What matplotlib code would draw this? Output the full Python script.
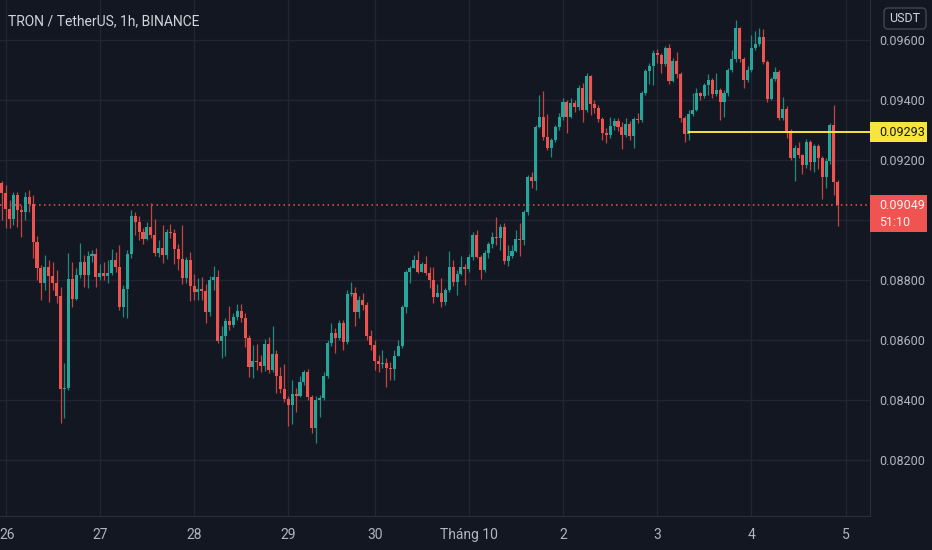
import matplotlib
matplotlib.use("Agg")
import matplotlib.pyplot as plt
import matplotlib.transforms as mtransforms
from matplotlib.patches import Rectangle, FancyBboxPatch
import numpy as np

# TRX/USDT 1h candles, Sep 25 23:00 -> Oct 4 22:00 (Binance)
first_open = 0.09123
closes = [
    0.09090, 0.09036, 0.09003, 0.09083, 0.09033, 0.09026, 0.09076, 0.09053, 0.08926, 0.08840, 0.08790, 0.08843,
    0.08813, 0.08790, 0.08746, 0.08436, 0.08440, 0.08803, 0.08736, 0.08816, 0.08860, 0.08816, 0.08880, 0.08886,
    0.08810, 0.08823, 0.08813, 0.08823, 0.08866, 0.08843, 0.08710, 0.08770, 0.08886, 0.09013, 0.08993, 0.08960,
    0.08936, 0.08976, 0.08950, 0.08890, 0.08906, 0.08883, 0.08960, 0.08956, 0.08903, 0.08870, 0.08806, 0.08866,
    0.08780, 0.08760, 0.08770, 0.08763, 0.08693, 0.08800, 0.08810, 0.08596, 0.08613, 0.08663, 0.08650, 0.08676,
    0.08696, 0.08673, 0.08606, 0.08510, 0.08530, 0.08526, 0.08513, 0.08586, 0.08500, 0.08553, 0.08480, 0.08436,
    0.08403, 0.08383, 0.08420, 0.08413, 0.08460, 0.08493, 0.08410, 0.08306, 0.08400, 0.08406, 0.08480, 0.08590,
    0.08623, 0.08606, 0.08656, 0.08593, 0.08753, 0.08756, 0.08693, 0.08733, 0.08716, 0.08613, 0.08583, 0.08530,
    0.08520, 0.08523, 0.08506, 0.08503, 0.08546, 0.08580, 0.08710, 0.08826, 0.08840, 0.08866, 0.08826, 0.08853,
    0.08823, 0.08800, 0.08743, 0.08756, 0.08726, 0.08766, 0.08843, 0.08793, 0.08820, 0.08843, 0.08836, 0.08876,
    0.08950, 0.08876, 0.08833, 0.08890, 0.08920, 0.08943, 0.08940, 0.08976, 0.08863, 0.08880, 0.08896, 0.08936,
    0.08933, 0.09026, 0.09143, 0.09130, 0.09310, 0.09343, 0.09276, 0.09240, 0.09266, 0.09310, 0.09343, 0.09393,
    0.09343, 0.09390, 0.09376, 0.09440, 0.09366, 0.09480, 0.09386, 0.09373, 0.09336, 0.09290, 0.09283, 0.09313,
    0.09330, 0.09310, 0.09283, 0.09320, 0.09280, 0.09336, 0.09333, 0.09423, 0.09496, 0.09513, 0.09556, 0.09550,
    0.09520, 0.09573, 0.09463, 0.09530, 0.09486, 0.09340, 0.09286, 0.09353, 0.09366, 0.09423, 0.09413, 0.09450,
    0.09466, 0.09420, 0.09433, 0.09393, 0.09423, 0.09500, 0.09536, 0.09640, 0.09536, 0.09466, 0.09500, 0.09573,
    0.09586, 0.09610, 0.09526, 0.09403, 0.09470, 0.09493, 0.09340, 0.09370, 0.09296, 0.09206, 0.09240, 0.09216,
    0.09183, 0.09260, 0.09193, 0.09246, 0.09206, 0.09143, 0.09196, 0.09316, 0.09126, 0.09049,
]
highs = [
    0.09130, 0.09116, 0.09066, 0.09093, 0.09093, 0.09050, 0.09093, 0.09100, 0.09083, 0.08946, 0.08850, 0.08883,
    0.08866, 0.08860, 0.08833, 0.08776, 0.08523, 0.08890, 0.08860, 0.08840, 0.08923, 0.08883, 0.08896, 0.08900,
    0.08906, 0.08853, 0.08860, 0.08866, 0.08903, 0.08893, 0.08916, 0.08783, 0.08900, 0.09033, 0.09026, 0.09013,
    0.08973, 0.08993, 0.09056, 0.09003, 0.08933, 0.08983, 0.08970, 0.08986, 0.08970, 0.08920, 0.08983, 0.08876,
    0.08893, 0.08820, 0.08806, 0.08810, 0.08786, 0.08813, 0.08846, 0.08833, 0.08646, 0.08673, 0.08713, 0.08690,
    0.08720, 0.08720, 0.08690, 0.08616, 0.08583, 0.08586, 0.08550, 0.08603, 0.08610, 0.08646, 0.08566, 0.08510,
    0.08520, 0.08413, 0.08466, 0.08440, 0.08480, 0.08500, 0.08503, 0.08416, 0.08413, 0.08416, 0.08493, 0.08600,
    0.08656, 0.08640, 0.08666, 0.08666, 0.08766, 0.08793, 0.08776, 0.08746, 0.08756, 0.08726, 0.08633, 0.08600,
    0.08550, 0.08566, 0.08540, 0.08526, 0.08566, 0.08600, 0.08716, 0.08833, 0.08846, 0.08883, 0.08896, 0.08860,
    0.08880, 0.08843, 0.08843, 0.08786, 0.08806, 0.08773, 0.08896, 0.08866, 0.08833, 0.08880, 0.08853, 0.08886,
    0.08960, 0.08966, 0.08883, 0.08900, 0.08926, 0.08960, 0.09010, 0.08986, 0.08990, 0.08916, 0.08916, 0.08966,
    0.08990, 0.09033, 0.09150, 0.09160, 0.09316, 0.09416, 0.09430, 0.09353, 0.09273, 0.09316, 0.09356, 0.09406,
    0.09400, 0.09406, 0.09400, 0.09450, 0.09456, 0.09490, 0.09483, 0.09400, 0.09383, 0.09343, 0.09306, 0.09343,
    0.09340, 0.09340, 0.09326, 0.09340, 0.09330, 0.09343, 0.09356, 0.09430, 0.09503, 0.09523, 0.09566, 0.09570,
    0.09556, 0.09580, 0.09586, 0.09540, 0.09560, 0.09493, 0.09346, 0.09366, 0.09423, 0.09440, 0.09426, 0.09456,
    0.09486, 0.09473, 0.09490, 0.09440, 0.09433, 0.09506, 0.09566, 0.09666, 0.09643, 0.09543, 0.09513, 0.09616,
    0.09630, 0.09640, 0.09636, 0.09533, 0.09476, 0.09510, 0.09500, 0.09410, 0.09380, 0.09303, 0.09250, 0.09260,
    0.09220, 0.09270, 0.09266, 0.09253, 0.09253, 0.09213, 0.09206, 0.09323, 0.09383, 0.09133,
]
lows = [
    0.09000, 0.08973, 0.08973, 0.08983, 0.08976, 0.08943, 0.09000, 0.09026, 0.08873, 0.08800, 0.08733, 0.08766,
    0.08726, 0.08766, 0.08723, 0.08323, 0.08340, 0.08433, 0.08710, 0.08733, 0.08806, 0.08776, 0.08773, 0.08860,
    0.08776, 0.08800, 0.08800, 0.08790, 0.08816, 0.08826, 0.08700, 0.08676, 0.08673, 0.08873, 0.08950, 0.08933,
    0.08920, 0.08933, 0.08940, 0.08880, 0.08876, 0.08856, 0.08870, 0.08940, 0.08853, 0.08833, 0.08786, 0.08790,
    0.08730, 0.08733, 0.08733, 0.08733, 0.08656, 0.08680, 0.08766, 0.08590, 0.08540, 0.08546, 0.08633, 0.08643,
    0.08666, 0.08660, 0.08576, 0.08476, 0.08473, 0.08500, 0.08493, 0.08496, 0.08490, 0.08493, 0.08423, 0.08423,
    0.08393, 0.08313, 0.08320, 0.08360, 0.08410, 0.08450, 0.08400, 0.08290, 0.08256, 0.08343, 0.08400, 0.08473,
    0.08580, 0.08556, 0.08600, 0.08566, 0.08586, 0.08746, 0.08646, 0.08673, 0.08700, 0.08600, 0.08566, 0.08500,
    0.08493, 0.08506, 0.08443, 0.08466, 0.08466, 0.08546, 0.08573, 0.08690, 0.08790, 0.08840, 0.08823, 0.08826,
    0.08816, 0.08773, 0.08723, 0.08743, 0.08710, 0.08716, 0.08760, 0.08780, 0.08750, 0.08816, 0.08783, 0.08826,
    0.08866, 0.08873, 0.08803, 0.08826, 0.08873, 0.08906, 0.08916, 0.08900, 0.08853, 0.08846, 0.08873, 0.08893,
    0.08880, 0.08916, 0.09016, 0.09106, 0.09100, 0.09306, 0.09266, 0.09233, 0.09210, 0.09260, 0.09300, 0.09333,
    0.09290, 0.09340, 0.09360, 0.09366, 0.09326, 0.09360, 0.09350, 0.09356, 0.09326, 0.09266, 0.09256, 0.09273,
    0.09300, 0.09296, 0.09236, 0.09276, 0.09266, 0.09240, 0.09323, 0.09326, 0.09416, 0.09453, 0.09450, 0.09523,
    0.09490, 0.09513, 0.09453, 0.09460, 0.09473, 0.09326, 0.09260, 0.09266, 0.09346, 0.09363, 0.09400, 0.09406,
    0.09416, 0.09406, 0.09413, 0.09333, 0.09343, 0.09413, 0.09493, 0.09526, 0.09526, 0.09440, 0.09460, 0.09493,
    0.09566, 0.09580, 0.09520, 0.09393, 0.09400, 0.09463, 0.09333, 0.09333, 0.09273, 0.09200, 0.09130, 0.09206,
    0.09153, 0.09173, 0.09166, 0.09160, 0.09170, 0.09070, 0.09106, 0.09186, 0.09083, 0.08980,
]
opens = [first_open] + closes[:-1]

# bar index of each midnight (Sep 29 has only 22 bars)
day_ticks = [1, 25, 49, 73, 95, 119, 143, 167, 191, 215]
day_labels = ["26", "27", "28", "29", "30", "Tháng 10", "2", "3", "4", "5"]
price_ticks = [0.082, 0.084, 0.086, 0.088, 0.090, 0.092, 0.094, 0.096]

title = "TRON / TetherUS, 1h, BINANCE"
last_price = 0.09049
countdown = "51:10"
level_price = 0.09293     # horizontal ray drawn on the chart
level_start = 174.8       # bar where the ray starts

BG = "#131722"
GRID = "#232632"
UP, DOWN = "#26a69a", "#ef5350"
UP_WICK, DOWN_WICK = "#1f8a80", "#c4443f"
TXT = "#b2b5be"
YELLOW = "#f7e43c"

plt.rcParams["font.family"] = ["Roboto", "DejaVu Sans"]

W, H = 932, 550
fig = plt.figure(figsize=(W / 100, H / 100), dpi=100, facecolor=BG)
ax = fig.add_axes([0, 34 / H, 870 / W, 516 / H], facecolor=BG)

o, c = np.array(opens), np.array(closes)
hi, lo = np.array(highs), np.array(lows)
x = np.arange(len(c))
up = c >= o

ax.vlines(x, lo, hi, colors=np.where(up, UP_WICK, DOWN_WICK), linewidth=0.9, zorder=2)
body = np.maximum(np.abs(c - o), 0.00003)
ax.bar(x, body, bottom=np.minimum(o, c), width=0.78,
       color=np.where(up, UP, DOWN), linewidth=0, zorder=3)

ax.axhline(last_price, color=DOWN, linewidth=1.1, linestyle=(0, (1, 2.2)), zorder=1)
ax.hlines(level_price, level_start, 230, color=YELLOW, linewidth=1.4, zorder=4)

ax.set_xlim(-0.43, 221.2)
ax.set_ylim(0.080133, 0.097333)

ax.set_xticks(day_ticks)
ax.set_xticklabels(day_labels)
ax.set_yticks(price_ticks)
# the 0.09000 label sits under the last-price tag, so it is not shown
ax.set_yticklabels(["" if abs(p - last_price) < 0.0006 else f"{p:.5f}" for p in price_ticks])
ax.yaxis.tick_right()
ax.grid(True, color=GRID, linewidth=1)
ax.set_axisbelow(True)
ax.tick_params(axis="x", length=0, pad=8.5, labelsize=10, labelcolor=TXT)
ax.tick_params(axis="y", length=0, pad=6.5, labelsize=9, labelcolor=TXT)
for side in ["top", "left"]:
    ax.spines[side].set_visible(False)
for side in ["bottom", "right"]:
    ax.spines[side].set_color("#2a2e39")

# price-axis tags, placed in display pixels
pix = mtransforms.IdentityTransform()
fig.canvas.draw()

# keep the first day label inside the picture, as the chart does
first_lab = ax.xaxis.get_major_ticks()[0].label1
first_lab.set_horizontalalignment("left")
first_lab.set_transform(first_lab.get_transform()
                        + mtransforms.ScaledTranslation(-4.2 / 72, 0, fig.dpi_scale_trans))


def ypix(p):
    return ax.transData.transform((0, p))[1]


yl = ypix(level_price)
fig.add_artist(Rectangle((870, yl - 10), 57, 20, facecolor=YELLOW, edgecolor="none", transform=pix))
fig.text(879 / W, yl / H, f"{level_price:.5f}", color="#131722", fontsize=9, va="center")

yp = ypix(last_price)
fig.add_artist(Rectangle((870, yp - 27), 57, 37, facecolor="#f05350", edgecolor="none", transform=pix))
fig.text(879 / W, (yp - 0.5) / H, f"{last_price:.5f}", color="#f4f4f4", fontsize=9, va="center")
fig.text(879 / W, (yp - 17) / H, countdown, color="#f4f4f4", fontsize=9, va="center")

fig.add_artist(FancyBboxPatch((884, H - 29), 42, 21, boxstyle="round,pad=0,rounding_size=4",
                              facecolor=BG, edgecolor="#434651", linewidth=1, transform=pix))
fig.text(905 / W, 1 - 18.5 / H, "USDT", color="#d1d4dc", fontsize=9, ha="center", va="center")

fig.text(8 / W, 1 - 21 / H, title, color="#d1d4dc", fontsize=10, va="center")

fig.savefig("out.png", dpi=100, facecolor=BG)
